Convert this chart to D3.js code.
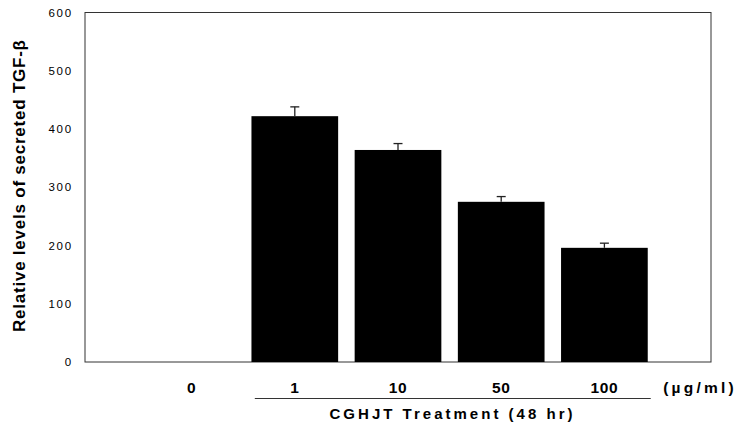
<!DOCTYPE html>
<html>
<head>
<meta charset="utf-8">
<script src="https://cdn.jsdelivr.net/npm/d3@7"></script>
<style>
  body { margin: 0; background: #fff; }
  text { font-family: Arial, "Liberation Sans", sans-serif; }
</style>
</head>
<body>
<div id="chart"></div>
<script>
const width = 745;
const height = 426;

// data
const doses = ["0", "1", "10", "50", "100"];
const levels = [0, 422, 364, 275, 196];
const errors = [0, 16, 11, 9, 8];
const yTicks = [0, 100, 200, 300, 400, 500, 600];

const plot = { left: 85, right: 711, top: 12.5, bottom: 362 };

const svg = d3.select("#chart")
    .append("svg")
    .attr("width", width)
    .attr("height", height);

const x = d3.scaleBand()
    .domain(doses)
    .range([140, 656])
    .paddingInner(0.16)
    .paddingOuter(0.08);

const y = d3.scaleLinear()
    .domain([0, 600])
    .range([plot.bottom, plot.top]);

// frame
svg.append("rect")
    .attr("x", plot.left)
    .attr("y", plot.top)
    .attr("width", plot.right - plot.left)
    .attr("height", plot.bottom - plot.top)
    .attr("fill", "none")
    .attr("stroke", "#333")
    .attr("stroke-width", 1);

// y tick labels
svg.selectAll(".ytick")
    .data(yTicks)
    .enter()
    .append("text")
    .attr("class", "ytick")
    .attr("x", 73)
    .attr("y", d => y(d) + 4)
    .attr("text-anchor", "end")
    .attr("font-size", 11.5)
    .attr("letter-spacing", 1.8)
    .text(d => d);

// bars
svg.selectAll(".bar")
    .data(doses)
    .enter()
    .append("rect")
    .attr("class", "bar")
    .attr("x", d => x(d))
    .attr("width", x.bandwidth())
    .attr("y", (d, i) => y(levels[i]))
    .attr("height", (d, i) => y(0) - y(levels[i]))
    .attr("fill", "#000");

// error bars (upper half only)
const err = svg.selectAll(".err")
    .data(doses.filter((d, i) => errors[i] > 0))
    .enter()
    .append("g")
    .attr("class", "err")
    .attr("stroke", "#222")
    .attr("stroke-width", 1.3);

err.append("line")
    .attr("x1", d => x(d) + x.bandwidth() / 2)
    .attr("x2", d => x(d) + x.bandwidth() / 2)
    .attr("y1", d => y(levels[doses.indexOf(d)]))
    .attr("y2", d => { const i = doses.indexOf(d); return y(levels[i] + errors[i]); });

err.append("line")
    .attr("x1", d => x(d) + x.bandwidth() / 2 - 4.5)
    .attr("x2", d => x(d) + x.bandwidth() / 2 + 4.5)
    .attr("y1", d => { const i = doses.indexOf(d); return y(levels[i] + errors[i]); })
    .attr("y2", d => { const i = doses.indexOf(d); return y(levels[i] + errors[i]); });

// x labels
svg.selectAll(".xlab")
    .data(doses)
    .enter()
    .append("text")
    .attr("class", "xlab")
    .attr("x", d => x(d) + x.bandwidth() / 2)
    .attr("y", 393)
    .attr("text-anchor", "middle")
    .attr("font-size", 15.5)
    .attr("font-weight", "bold")
    .attr("letter-spacing", 0.6)
    .text(d => d);

svg.append("text")
    .attr("x", 700)
    .attr("y", 393)
    .attr("text-anchor", "middle")
    .attr("font-size", 15.5)
    .attr("font-weight", "bold")
    .attr("letter-spacing", 3.2)
    .text("(\u00b5g/ml)");

// treatment underline
svg.append("line")
    .attr("x1", x("1") + x.bandwidth() / 2 - 40)
    .attr("x2", x("100") + x.bandwidth() + 3)
    .attr("y1", 398.5)
    .attr("y2", 398.5)
    .attr("stroke", "#333")
    .attr("stroke-width", 1);

svg.append("text")
    .attr("x", 451)
    .attr("y", 419)
    .attr("text-anchor", "middle")
    .attr("font-size", 15)
    .attr("font-weight", "bold")
    .attr("textLength", 243)
    .attr("lengthAdjust", "spacing")
    .text("CGHJT Treatment (48 hr)");

// y title
svg.append("text")
    .attr("transform", "translate(25,186) rotate(-90)")
    .attr("text-anchor", "middle")
    .attr("font-size", 17)
    .attr("font-weight", "bold")
    .attr("textLength", 292)
    .attr("lengthAdjust", "spacing")
    .text("Relative levels of secreted TGF-\u03b2");
</script>
</body>
</html>
